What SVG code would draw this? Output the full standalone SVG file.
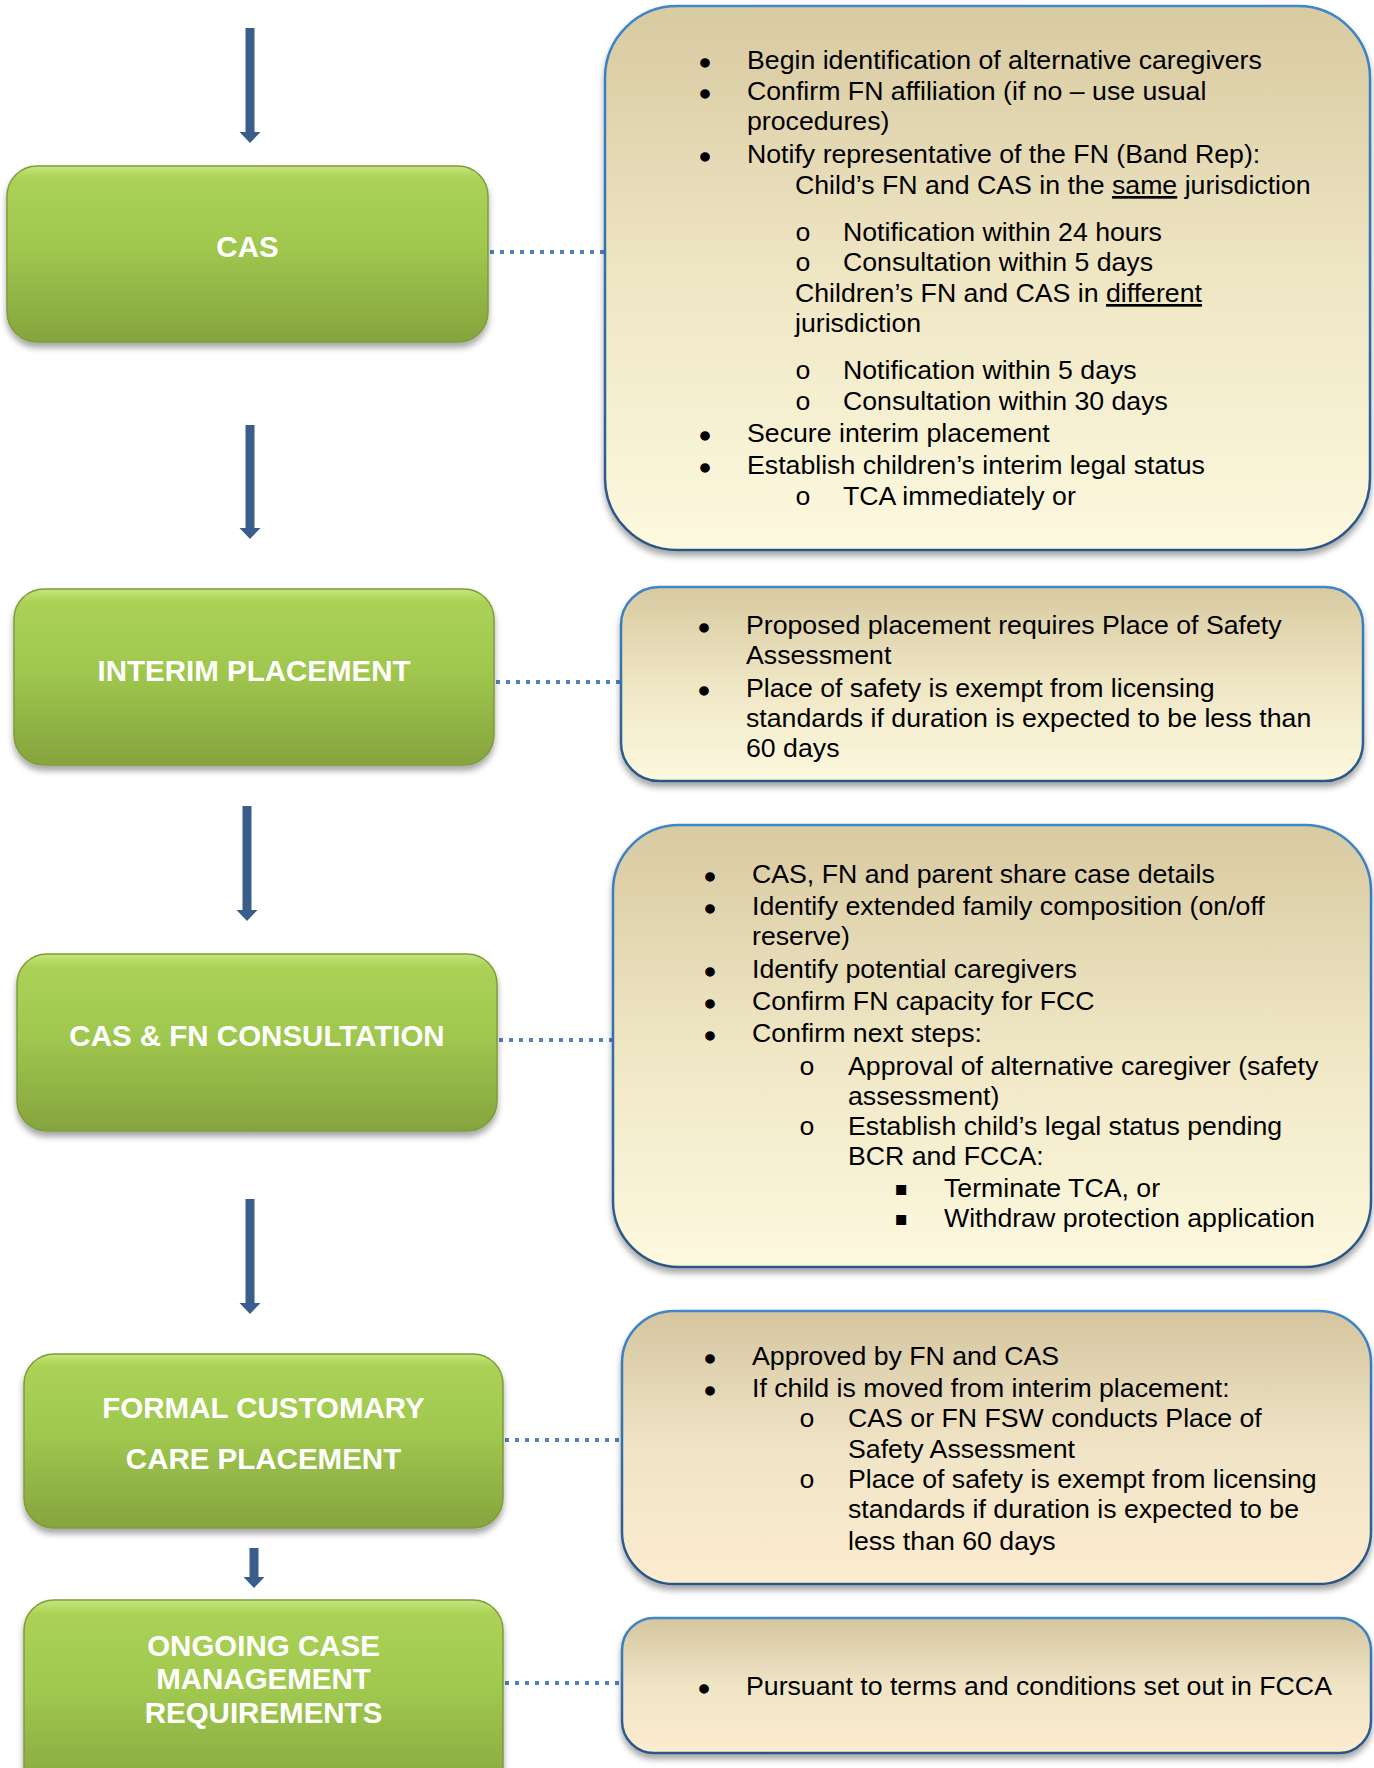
<svg xmlns="http://www.w3.org/2000/svg" width="1374" height="1768" viewBox="0 0 1374 1768">
  <defs>
    <linearGradient id="green" x1="0" y1="0" x2="0" y2="1">
      <stop offset="0" stop-color="#c6e57c"/>
      <stop offset="0.07" stop-color="#abd256"/>
      <stop offset="0.45" stop-color="#a0c84f"/>
      <stop offset="1" stop-color="#86a43e"/>
    </linearGradient>
    <linearGradient id="beige" x1="0" y1="0" x2="0" y2="1">
      <stop offset="0" stop-color="#d8caa1"/>
      <stop offset="0.5" stop-color="#efe6c4"/>
      <stop offset="1" stop-color="#fdf9df"/>
    </linearGradient>
    <linearGradient id="peach" x1="0" y1="0" x2="0" y2="1">
      <stop offset="0" stop-color="#d5c6a0"/>
      <stop offset="0.5" stop-color="#f0e4c6"/>
      <stop offset="1" stop-color="#fcecd0"/>
    </linearGradient>
    <linearGradient id="edge" x1="0" y1="0" x2="0" y2="1">
      <stop offset="0" stop-color="#3f86c8"/>
      <stop offset="1" stop-color="#2a5585"/>
    </linearGradient>
    <filter id="shadow" x="-5%" y="-5%" width="110%" height="115%">
      <feDropShadow dx="0" dy="5" stdDeviation="3" flood-color="#000" flood-opacity="0.35"/>
    </filter>
    <style>
      .gbox { fill: url(#green); stroke: #7f9c3a; stroke-width: 1.5; filter: url(#shadow); }
      .bbox { stroke: url(#edge); stroke-width: 2.5; filter: url(#shadow); }
      .gt { font-family: "Liberation Sans", Arial, sans-serif; font-weight: bold; font-size: 29.5px; fill: #ffffff; text-anchor: middle; }
      .t { font-family: "Liberation Sans", Arial, sans-serif; font-size: 26.7px; fill: #000000; }
      .b { font-family: "Liberation Sans", Arial, sans-serif; font-size: 30px; fill: #000000; stroke: #000000; stroke-width: 1.4; text-anchor: middle; }
      .o { font-family: "Liberation Mono", "Courier New", monospace; font-size: 26.5px; fill: #000000; text-anchor: middle; }
      .sq { font-family: "DejaVu Sans", sans-serif; font-size: 20px; fill: #000000; text-anchor: middle; }
      .arrow { fill: #3a5e8c; }
      .dot { stroke: #4f81bd; stroke-width: 4; stroke-dasharray: 4 6; fill: none; }
    </style>
  </defs>

  <rect width="1374" height="1768" fill="#ffffff"/>

  <g id="connectors">
    <path class="arrow" d="M245.5,28 H254.5 V132 H260.5 L250,143 L239.5,132 H245.5 Z"/>
    <path class="arrow" d="M245.5,425 H254.5 V528 H260.5 L250,539 L239.5,528 H245.5 Z"/>
    <path class="arrow" d="M242.5,806 H251.5 V910 H257.5 L247,921 L236.5,910 H242.5 Z"/>
    <path class="arrow" d="M245.5,1199 H254.5 V1303 H260.5 L250,1314 L239.5,1303 H245.5 Z"/>
    <path class="arrow" d="M249.5,1548 H258.5 V1577 H264.5 L254,1588 L243.5,1577 H249.5 Z"/>
    <line class="dot" x1="490" y1="252" x2="605" y2="252"/>
    <line class="dot" x1="496" y1="682" x2="621" y2="682"/>
    <line class="dot" x1="499" y1="1040" x2="613" y2="1040"/>
    <line class="dot" x1="505" y1="1440" x2="622" y2="1440"/>
    <line class="dot" x1="505" y1="1683" x2="622" y2="1683"/>
  </g>

  <g id="node-cas">
    <rect class="gbox" x="7" y="166" width="481" height="176" rx="30"/>
    <text class="gt" x="247.5" y="257">CAS</text>
  </g>

  <g id="node-interim">
    <rect class="gbox" x="14" y="589" width="480" height="176" rx="30"/>
    <text class="gt" x="254" y="681">INTERIM PLACEMENT</text>
  </g>

  <g id="node-consultation">
    <rect class="gbox" x="17" y="954" width="480" height="177" rx="30"/>
    <text class="gt" x="257" y="1046">CAS &amp; FN CONSULTATION</text>
  </g>

  <g id="node-fcc">
    <rect class="gbox" x="24" y="1354" width="479" height="174" rx="30"/>
    <text class="gt" x="263.5" y="1418">FORMAL CUSTOMARY</text>
    <text class="gt" x="263.5" y="1469">CARE PLACEMENT</text>
  </g>

  <g id="node-ongoing">
    <rect class="gbox" x="24" y="1600" width="479" height="200" rx="30"/>
    <text class="gt" x="263.5" y="1656">ONGOING CASE</text>
    <text class="gt" x="263.5" y="1689">MANAGEMENT</text>
    <text class="gt" x="263.5" y="1723">REQUIREMENTS</text>
  </g>

  <g id="note-cas">
    <rect class="bbox" x="605" y="6" width="765" height="544" rx="72" fill="url(#beige)"/>
    <text class="b" x="705" y="72.5">•</text>
    <text class="t" x="747" y="69">Begin identification of alternative caregivers</text>
    <text class="b" x="705" y="103.5">•</text>
    <text class="t" x="747" y="100">Confirm FN affiliation (if no – use usual</text>
    <text class="t" x="747" y="130">procedures)</text>
    <text class="b" x="705" y="166.5">•</text>
    <text class="t" x="747" y="163">Notify representative of the FN (Band Rep):</text>
    <text class="t" x="795" y="194">Child’s FN and CAS in the <tspan text-decoration="underline">same</tspan> jurisdiction</text>
    <text class="o" x="803" y="241">o</text>
    <text class="t" x="843" y="241">Notification within 24 hours</text>
    <text class="o" x="803" y="271">o</text>
    <text class="t" x="843" y="271">Consultation within 5 days</text>
    <text class="t" x="795" y="302">Children’s FN and CAS in <tspan text-decoration="underline">different</tspan></text>
    <text class="t" x="795" y="332">jurisdiction</text>
    <text class="o" x="803" y="379">o</text>
    <text class="t" x="843" y="379">Notification within 5 days</text>
    <text class="o" x="803" y="410">o</text>
    <text class="t" x="843" y="410">Consultation within 30 days</text>
    <text class="b" x="705" y="445.5">•</text>
    <text class="t" x="747" y="442">Secure interim placement</text>
    <text class="b" x="705" y="477.5">•</text>
    <text class="t" x="747" y="474">Establish children’s interim legal status</text>
    <text class="o" x="803" y="505">o</text>
    <text class="t" x="843" y="505">TCA immediately or</text>
  </g>

  <g id="note-interim">
    <rect class="bbox" x="621" y="587" width="742" height="194" rx="38" fill="url(#beige)"/>
    <text class="b" x="704" y="637.5">•</text>
    <text class="t" x="746" y="634">Proposed placement requires Place of Safety</text>
    <text class="t" x="746" y="664">Assessment</text>
    <text class="b" x="704" y="700.5">•</text>
    <text class="t" x="746" y="697">Place of safety is exempt from licensing</text>
    <text class="t" x="746" y="727">standards if duration is expected to be less than</text>
    <text class="t" x="746" y="757">60 days</text>
  </g>

  <g id="note-consultation">
    <rect class="bbox" x="613" y="825" width="758" height="442" rx="66" fill="url(#beige)"/>
    <text class="b" x="710" y="886.5">•</text>
    <text class="t" x="752" y="883">CAS, FN and parent share case details</text>
    <text class="b" x="710" y="918.5">•</text>
    <text class="t" x="752" y="915">Identify extended family composition (on/off</text>
    <text class="t" x="752" y="945">reserve)</text>
    <text class="b" x="710" y="981.5">•</text>
    <text class="t" x="752" y="978">Identify potential caregivers</text>
    <text class="b" x="710" y="1013.5">•</text>
    <text class="t" x="752" y="1010">Confirm FN capacity for FCC</text>
    <text class="b" x="710" y="1045.5">•</text>
    <text class="t" x="752" y="1042">Confirm next steps:</text>
    <text class="o" x="807" y="1075">o</text>
    <text class="t" x="848" y="1075">Approval of alternative caregiver (safety</text>
    <text class="t" x="848" y="1105">assessment)</text>
    <text class="o" x="807" y="1135">o</text>
    <text class="t" x="848" y="1135">Establish child’s legal status pending</text>
    <text class="t" x="848" y="1165">BCR and FCCA:</text>
    <text class="sq" x="901" y="1195">▪</text>
    <text class="t" x="944" y="1197">Terminate TCA, or</text>
    <text class="sq" x="901" y="1225">▪</text>
    <text class="t" x="944" y="1227">Withdraw protection application</text>
  </g>

  <g id="note-fcc">
    <rect class="bbox" x="622" y="1311" width="749" height="273" rx="52" fill="url(#peach)"/>
    <text class="b" x="710" y="1368.5">•</text>
    <text class="t" x="752" y="1365">Approved by FN and CAS</text>
    <text class="b" x="710" y="1400.5">•</text>
    <text class="t" x="752" y="1397">If child is moved from interim placement:</text>
    <text class="o" x="807" y="1427">o</text>
    <text class="t" x="848" y="1427">CAS or FN FSW conducts Place of</text>
    <text class="t" x="848" y="1458">Safety Assessment</text>
    <text class="o" x="807" y="1488">o</text>
    <text class="t" x="848" y="1488">Place of safety is exempt from licensing</text>
    <text class="t" x="848" y="1518">standards if duration is expected to be</text>
    <text class="t" x="848" y="1550">less than 60 days</text>
  </g>

  <g id="note-ongoing">
    <rect class="bbox" x="622" y="1618" width="749" height="135" rx="32" fill="url(#peach)"/>
    <text class="b" x="704" y="1698.5">•</text>
    <text class="t" x="746" y="1695">Pursuant to terms and conditions set out in FCCA</text>
  </g>
</svg>
